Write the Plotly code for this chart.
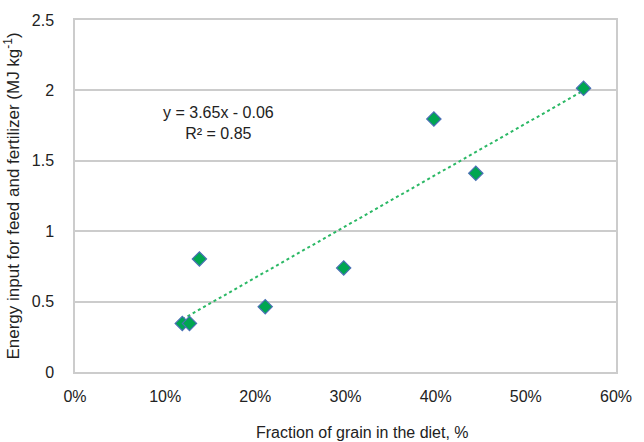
import numpy as np
import plotly.graph_objects as go

# Fraction of grain in the diet (share) and energy input for feed and fertilizer (MJ/kg)
grain_fraction = [0.119, 0.127, 0.138, 0.211, 0.298, 0.398, 0.4445, 0.564]
energy_input = [0.345, 0.345, 0.803, 0.464, 0.739, 1.797, 1.411, 2.015]

# Linear trend line coefficients
trend_slope = 3.65
trend_intercept = -0.06
trend_r2 = 0.85

x_ticks = [0, 0.1, 0.2, 0.3, 0.4, 0.5, 0.6]
y_ticks = [0, 0.5, 1, 1.5, 2, 2.5]

font_family = "Liberation Sans, Arial, sans-serif"
grey = "#cccccc"

trend_x = np.array([min(grain_fraction), max(grain_fraction)])
trend_y = trend_slope * trend_x + trend_intercept

fig = go.Figure()
fig.add_trace(go.Scatter(
    x=trend_x, y=trend_y, mode="lines",
    line=dict(color="#2bb865", width=2, dash="dot"),
    hoverinfo="skip", showlegend=False,
))
fig.add_trace(go.Scatter(
    x=grain_fraction, y=energy_input, mode="markers",
    marker=dict(symbol="diamond", size=11, color="#00a651",
                line=dict(color="#4a6fb5", width=1.2)),
    showlegend=False,
))

fig.add_annotation(
    x=0.159, y=1.77, xref="x", yref="y",
    text=f"y = {trend_slope}x - {abs(trend_intercept):.2f}<br>R² = {trend_r2}",
    showarrow=False, align="center", yanchor="middle",
    font=dict(family=font_family, size=16, color="#222222"),
)
fig.add_annotation(
    x=0.5, y=-0.173, xref="paper", yref="paper",
    text="Fraction of grain in the diet, %", showarrow=False,
    xshift=17, yanchor="middle",
    font=dict(family=font_family, size=16, color="#222222"),
)

fig.update_layout(
    width=644, height=442,
    margin=dict(l=73, r=23, t=20, b=70),
    paper_bgcolor="white", plot_bgcolor="white",
    font=dict(family=font_family, size=16, color="#222222"),
    xaxis=dict(
        range=[0, 0.6], tickvals=x_ticks, tickformat=".0%",
        showgrid=False, zeroline=False,
        showline=True, linecolor=grey, linewidth=1.5, mirror=True,
        ticks="outside", ticklen=9, tickcolor="rgba(0,0,0,0)",
    ),
    yaxis=dict(
        range=[0, 2.5], tickvals=y_ticks,
        showgrid=True, gridcolor=grey, gridwidth=1.5, zeroline=False,
        showline=True, linecolor=grey, linewidth=1.5, mirror=True,
        ticks="outside", ticklen=16, tickcolor="rgba(0,0,0,0)",
        title=dict(text="Energy input for feed and fertilizer (MJ kg<sup>-1</sup>)",
                   standoff=8, font=dict(size=17)),
    ),
)

fig.write_html("out.html")
